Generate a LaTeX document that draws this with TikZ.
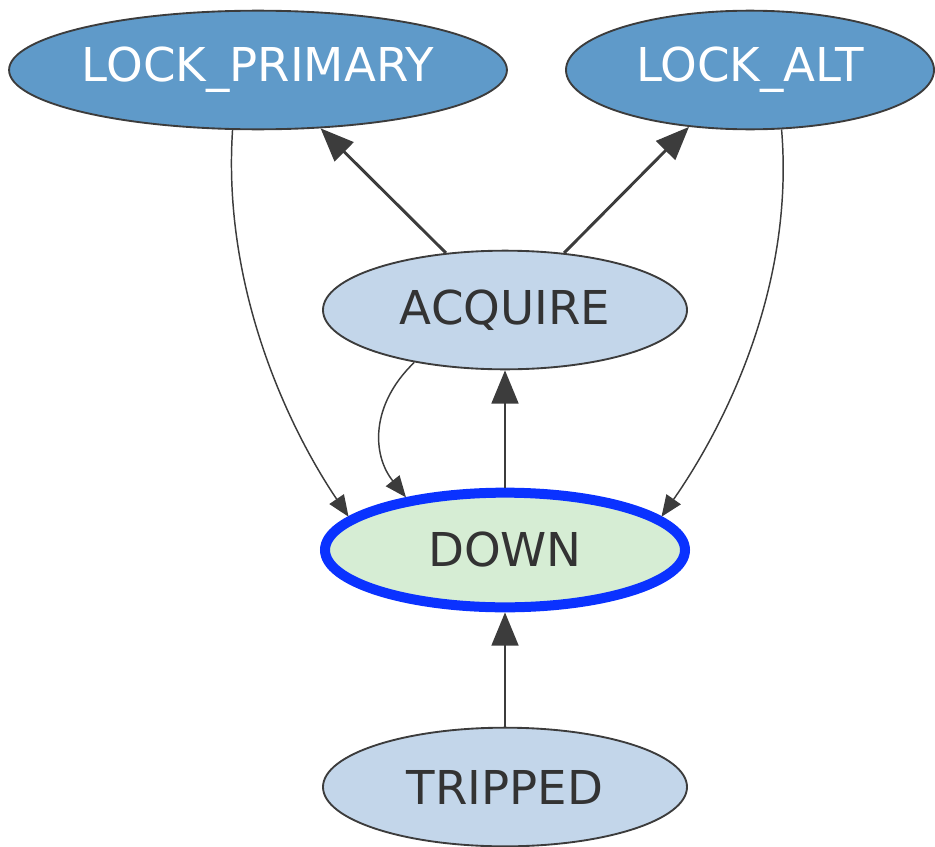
\documentclass[tikz,border=0pt]{standalone}
\usepackage{fontspec}
\setmainfont{DejaVu Sans}
\usetikzlibrary{shapes.geometric,arrows.meta}
\definecolor{darkfill}{HTML}{5F9AC9}
\definecolor{lightfill}{HTML}{C3D6EA}
\definecolor{downfill}{HTML}{D6EDD4}
\definecolor{downline}{HTML}{0A32FF}
\definecolor{edgecol}{HTML}{3C3C3C}
\definecolor{txt}{HTML}{333333}
\tikzset{
  state/.style={ellipse, draw=edgecol, line width=1.4pt, inner sep=0pt,
    font=\fontsize{35}{42}\selectfont},
  darkstate/.style={state, fill=darkfill, text=white},
  lightstate/.style={state, fill=lightfill, text=txt},
  downstate/.style={state, fill=downfill, draw=downline, line width=7.5pt, text=txt},
  bigedge/.style={draw=edgecol, line width=2.2pt, -{Triangle[length=25pt,width=20pt]}},
  thinedge/.style={draw=edgecol, line width=1.1pt, -{Triangle[length=16pt,width=13pt]}},
}
\begin{document}
\begin{tikzpicture}[x=0.75pt,y=-0.75pt]
\useasboundingbox (0,0) rectangle (935,846);
\node[darkstate, minimum width=369pt, minimum height=89pt] (LP) at (258,70) {LOCK\_PRIMARY};
\node[darkstate, minimum width=276pt, minimum height=89pt] (LA) at (750,70) {LOCK\_ALT};
\node[lightstate, minimum width=273pt, minimum height=89pt] (ACQ) at (505,310) {ACQUIRE};
\node[downstate, minimum width=270pt, minimum height=86pt] (DOWN) at (505,550) {DOWN};
\node[lightstate, minimum width=273pt, minimum height=89pt] (TR) at (505,787) {TRIPPED};

\draw[bigedge] (ACQ.136) -- (LP.317);
\draw[bigedge] (ACQ.44) -- (LA.223);
\draw[bigedge] (DOWN.north) -- (ACQ.south);
\draw[bigedge] (TR.north) -- (DOWN.south);

\draw[thinedge] (LP.247) .. controls (222,290) and (290,430) .. (DOWN.168);
\draw[thinedge] (LA.298) .. controls (795,290) and (722,430) .. (DOWN.12);
\draw[thinedge] (ACQ.210) .. controls (370,405) and (372,455) .. (DOWN.152);
\end{tikzpicture}
\end{document}
